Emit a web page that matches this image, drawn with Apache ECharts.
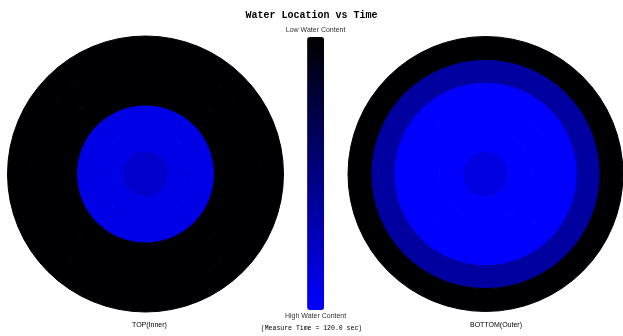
<!DOCTYPE html>
<html>
<head>
<meta charset="utf-8">
<script src="https://cdn.jsdelivr.net/npm/echarts@6/dist/echarts.min.js"></script>
<style>
  html, body { margin: 0; padding: 0; background: #ffffff; }
  #chart { width: 623px; height: 336px; }
</style>
</head>
<body>
<div id="chart"></div>
<script>
// Radial rings, centre (1) to rim (6)
var rings = ['1', '2', '3', '4', '5', '6'];
// Relative water content per ring (0 = dry, 1 = saturated)
var topInner = [0.80, 0.90, 0.90, 0.01, 0.01, 0.01];
var bottomOuter = [0.88, 1.00, 1.00, 1.00, 0.63, 0.01];
var panelNames = ['TOP(Inner)', 'BOTTOM(Outer)'];
var measureTime = 120.0;

var waterColors = ['#000000', '#0000ff'];

// Each ring: [ring, full turn, water content]; a thin border in the fill
// colour closes the anti-aliasing seam between neighbouring rings.
function ringData(values) {
  return values.map(function (v, i) {
    var c = echarts.color.lerp(v, waterColors);
    return {
      value: [rings[i], 1, v],
      itemStyle: { borderColor: c, borderWidth: 1 }
    };
  });
}

var chart = echarts.init(document.getElementById('chart'), null, { renderer: 'canvas' });

var polarCenters = [[145.5, 174], [485.5, 174]];

var option = {
  backgroundColor: '#ffffff',
  animation: false,
  title: [
    {
      text: 'Water Location vs Time',
      left: 'center', top: 5,
      textStyle: { fontFamily: 'Liberation Mono', fontWeight: 'bold', fontSize: 10, color: '#000' }
    },
    {
      text: '(Measure Time = ' + measureTime.toFixed(1) + ' sec)',
      left: 'center', top: 320,
      textStyle: { fontFamily: 'Liberation Mono', fontWeight: 'normal', fontSize: 6.5, color: '#000' }
    },
    {
      text: panelNames[0],
      left: 127, top: 317,
      textStyle: { fontFamily: 'Liberation Sans', fontWeight: 'normal', fontSize: 7, color: '#000' }
    },
    {
      text: panelNames[1],
      left: 465, top: 317,
      textStyle: { fontFamily: 'Liberation Sans', fontWeight: 'normal', fontSize: 7, color: '#000' }
    }
  ],
  visualMap: {
    type: 'continuous',
    min: 0, max: 1,
    inverse: true,
    calculable: false,
    dimension: 2,
    seriesIndex: [0, 1],
    orient: 'vertical',
    left: 270, top: 12,
    itemWidth: 17, itemHeight: 273,
    text: ['High Water Content', 'Low Water Content'],
    textGap: 3,
    textStyle: { fontFamily: 'Liberation Sans', fontSize: 7, color: '#333' },
    inRange: { color: waterColors }
  },
  polar: [
    { center: polarCenters[0], radius: 138 },
    { center: polarCenters[1], radius: 137.5 }
  ],
  angleAxis: [
    { polarIndex: 0, type: 'value', min: 0, max: 1, startAngle: 90, show: false },
    { polarIndex: 1, type: 'value', min: 0, max: 1, startAngle: 90, show: false }
  ],
  radiusAxis: [
    { polarIndex: 0, type: 'category', data: rings, show: false },
    { polarIndex: 1, type: 'category', data: rings, show: false }
  ],
  series: [
    {
      name: panelNames[0],
      type: 'bar',
      coordinateSystem: 'polar',
      polarIndex: 0,
      barCategoryGap: '0%',
      encode: { radius: 0, angle: 1 },
      data: ringData(topInner)
    },
    {
      name: panelNames[1],
      type: 'bar',
      coordinateSystem: 'polar',
      polarIndex: 1,
      barCategoryGap: '0%',
      encode: { radius: 0, angle: 1 },
      data: ringData(bottomOuter)
    }
  ]
};

chart.setOption(option);
</script>
</body>
</html>
